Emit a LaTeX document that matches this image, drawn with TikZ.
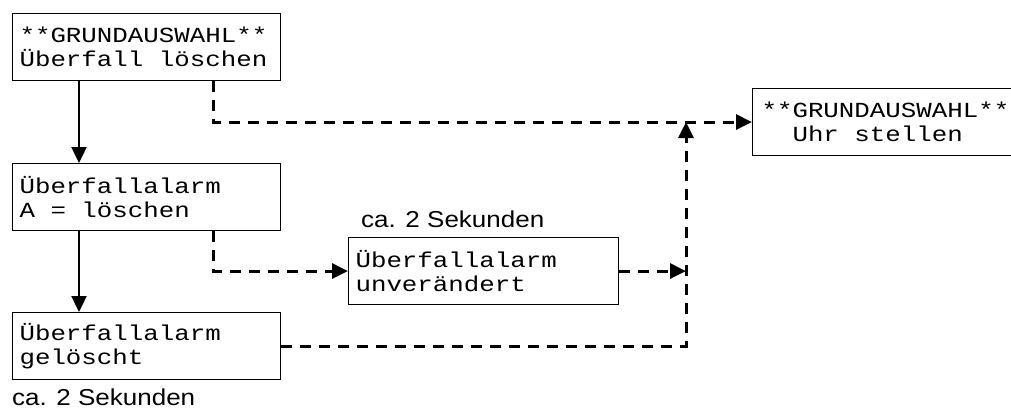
\documentclass[tikz,border=0pt]{standalone}
\usepackage{fontspec}
\usetikzlibrary{arrows.meta}
\newfontfamily\boxfont[FakeStretch=1.2]{Liberation Mono}
\newfontfamily\lblfont[FakeStretch=1.13]{Liberation Sans}
\newcommand\msp{\phantom{x}}
\begin{document}
\begin{tikzpicture}[x=1pt,y=-1pt,
  box/.style={draw, line width=1.1pt, anchor=north west, minimum height=67pt,
    inner xsep=7pt, inner ysep=0pt, align=left, text width=254pt,
    font=\boxfont\fontsize{21.5}{23.5}\selectfont},
  lbl/.style={font=\lblfont\fontsize{23}{26}\selectfont, inner sep=0pt},
  solidarrow/.style={line width=2.4pt, -{Triangle[length=16pt,width=15pt]}},
  dasharrow/.style={line width=3pt, dash pattern=on 11pt off 8pt, -{Triangle[length=16pt,width=15pt]}}]
\useasboundingbox (0,0) rectangle (1011,408);
\node[box] (b1) at (12,13) {**GRUNDAUSWAHL**\\Überfall\msp löschen};
\node[box] (b2) at (12,163) {Überfallalarm\\A\msp=\msp löschen};
\node[box] (b3) at (12,312) {Überfallalarm\\gelöscht};
\node[box, text width=256pt] (b4) at (348,237) {Überfallalarm\\unverändert};
\node[box, inner xsep=9pt, text width=262pt] (b5) at (752,88) {**GRUNDAUSWAHL**\\\msp\msp Uhr\msp stellen};
\node[lbl, anchor=base west] (l1) at (12,405) {ca. 2 Sekunden};
\node[lbl, anchor=base west] (l2) at (361,227) {ca. 2 Sekunden};
\coordinate (xs) at (79,0);
\coordinate (xd) at (213,0);
\coordinate (xj) at (686,0);
\coordinate (j1) at (b4.east -| xj);
\coordinate (j2) at (b5.west -| xj);
\coordinate (c3) at (b3.east -| xj);
\draw[solidarrow] (b1.south -| xs) -- (b2.north -| xs);
\draw[solidarrow] (b2.south -| xs) -- (b3.north -| xs);
\draw[dasharrow] (b1.south -| xd) |- (b5.west);
\draw[dasharrow] (b2.south -| xd) |- (b4.west);
\draw[dasharrow] (b4.east) -- (j1);
\draw[dasharrow] (b3.east) -- (c3) -- (j2);
\end{tikzpicture}
\end{document}
